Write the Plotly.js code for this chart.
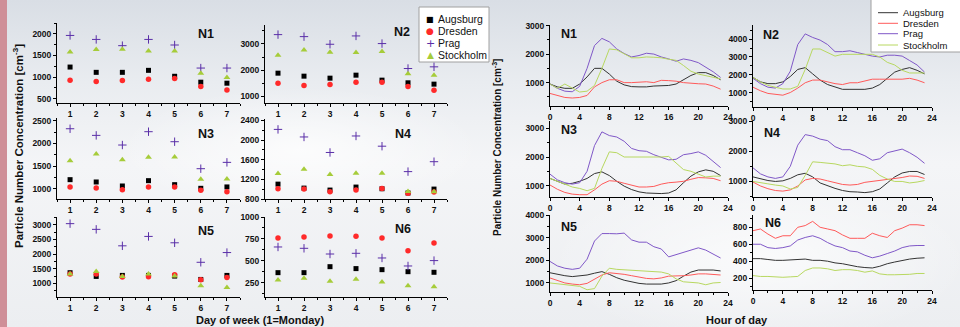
<!DOCTYPE html>
<html><head><meta charset="utf-8">
<script src="https://cdn.plot.ly/plotly-3.0.1.min.js"></script>
<style>
html,body{margin:0;padding:0;}
body{width:960px;height:327px;overflow:hidden;
background:
 radial-gradient(ellipse 260px 90px at 300px 150px, rgba(255,255,255,0.75), rgba(255,255,255,0) 70%),
 radial-gradient(ellipse 300px 120px at 760px 260px, rgba(255,255,255,0.7), rgba(255,255,255,0) 70%),
 linear-gradient(to bottom, #d9dee5 0%, #e9ecf0 25%, #f4f5f7 50%, #eceef1 100%);}
#chart{width:960px;height:327px;position:absolute;left:0;top:0;}
#strip{position:absolute;left:0;top:0;width:7px;height:327px;background:#cf8f98;}
</style></head>
<body><div id="strip"></div><div id="chart"></div>
<script>
// ---------- DATA ----------
const cities = ["Augsburg","Dresden","Prag","Stockholm"];
const days = [1,2,3,4,5,6,7];
const hours = [0,1,2,3,4,5,6,7,8,9,10,11,12,13,14,15,16,17,18,19,20,21,22,23];
const panels = ["N1","N2","N3","N4","N5","N6"];

// Day-of-week means (Augsburg, Dresden, Prag, Stockholm)
const dowN1_Augsburg  = [1231,1109,1109,1155,1018,881,858];
const dowN1_Dresden   = [926,896,919,949,964,782,698];
const dowN1_Prag      = [1962,1870,1726,1870,1741,1208,1208];
const dowN1_Stockholm = [1581,1635,1642,1604,1604,1086,987];

const dowN2_Augsburg  = [1886,1772,1696,1810,1620,1519,1468];
const dowN2_Dresden   = [1506,1418,1456,1544,1544,1380,1240];
const dowN2_Prag      = [3354,3278,2987,3304,3013,2063,2127];
const dowN2_Stockholm = [2570,2772,2684,2671,2709,1861,1810];

const dowN3_Augsburg  = [1205,1154,1066,1183,1095,1015,1045];
const dowN3_Dresden   = [1044,1022,985,1044,1044,971,941];
const dowN3_Prag      = [2324,2178,1966,2259,2039,1446,1585];
const dowN3_Stockholm = [1622,1768,1644,1695,1702,1212,1220];

const dowN4_Augsburg  = [1103,1022,982,1043,1009,922,1002];
const dowN4_Dresden   = [1009,1002,948,982,1016,915,942];
const dowN4_Prag      = [2218,2064,1748,2084,1876,1358,1560];
const dowN4_Stockholm = [1318,1405,1298,1325,1325,955,948];

const dowN5_Augsburg  = [1366,1240,1274,1274,1251,1137,1274];
const dowN5_Dresden   = [1320,1320,1217,1229,1297,1126,1206];
const dowN5_Prag      = [3034,2840,2280,2600,2383,1720,2051];
const dowN5_Stockholm = [1320,1411,1240,1320,1251,920,863];

const dowN6_Augsburg  = [367,367,435,413,401,378,371];
const dowN6_Dresden   = [761,773,784,780,761,617,704];
const dowN6_Prag      = [659,644,579,587,534,443,504];
const dowN6_Stockholm = [284,303,269,291,261,219,208];

// Hour-of-day means
const hodN1_Augsburg  = [950,850,800,800,950,1200,1500,1500,1300,1050,920,860,850,850,880,880,900,950,1100,1250,1350,1350,1250,1100];
const hodN1_Dresden   = [620,550,480,460,480,550,850,1000,1100,1100,1000,1000,1020,1030,1000,1080,1070,1050,1000,970,960,950,880,770];
const hodN1_Prag      = [950,800,700,680,870,1500,2300,2550,2430,2180,2020,1900,1950,2030,2000,1900,1830,1750,1830,1780,1700,1550,1380,1180];
const hodN1_Stockholm = [950,800,950,800,670,700,900,1500,2180,2150,2000,1870,1870,1900,1890,1870,1820,1780,1600,1400,1300,1250,1200,1130];

const hodN2_Augsburg  = [1850,1600,1500,1500,1600,1900,2300,2400,2050,1700,1450,1300,1180,1180,1180,1180,1250,1450,1800,2150,2300,2400,2250,2050];
const hodN2_Dresden   = [1300,1100,950,880,850,1000,1250,1550,1700,1700,1600,1500,1450,1550,1550,1650,1750,1750,1750,1750,1750,1800,1700,1550];
const hodN2_Prag      = [1800,1500,1300,1250,1500,2200,3700,4300,4100,3950,3700,3300,3300,3350,3250,3150,3050,3000,3100,3100,3050,2800,2550,2150];
const hodN2_Stockholm = [1850,1600,1400,1300,1200,1200,1350,2300,3450,3450,3250,3050,3150,3150,3150,3150,3150,3000,2700,2550,2250,2100,2100,2100];

const hodN3_Augsburg  = [1250,1150,1050,1080,1150,1250,1420,1480,1350,1150,980,860,780,740,720,720,740,850,1100,1330,1480,1550,1500,1350];
const hodN3_Dresden   = [1020,870,760,700,680,680,850,1050,1170,1150,1080,1020,950,950,970,1050,1100,1120,1150,1220,1280,1270,1250,1170];
const hodN3_Prag      = [1400,1200,1100,1050,1100,1500,2400,2880,2750,2700,2550,2300,2220,2200,2080,2000,1900,1920,2080,2120,2180,2060,1850,1630];
const hodN3_Stockholm = [1250,1150,1050,950,900,820,900,1600,2180,2150,2000,2000,2000,1980,2000,2000,2020,1800,1560,1500,1400,1300,1330,1330];

const hodN4_Augsburg  = [1150,1080,1030,1000,1020,1100,1220,1270,1150,950,850,770,700,660,650,630,660,750,950,1150,1280,1330,1330,1230];
const hodN4_Dresden   = [980,850,760,700,680,720,850,1050,1100,1080,1020,950,900,880,900,970,1000,1020,1050,1100,1130,1180,1170,1100];
const hodN4_Prag      = [1450,1250,1150,1100,1150,1500,2200,2550,2500,2400,2350,2150,2050,2050,1950,1850,1700,1750,1950,2000,2070,1950,1800,1600];
const hodN4_Stockholm = [1000,950,920,880,850,750,800,1200,1650,1630,1600,1580,1520,1550,1500,1480,1400,1200,1080,1000,1000,950,980,1030];

const hodN5_Augsburg  = [1450,1380,1320,1280,1300,1350,1430,1500,1380,1230,1120,1050,980,950,950,950,1000,1100,1300,1480,1570,1580,1570,1530];
const hodN5_Dresden   = [1220,1100,1000,950,920,980,1150,1350,1450,1430,1380,1320,1250,1200,1180,1220,1300,1300,1320,1350,1400,1400,1380,1350];
const hodN5_Prag      = [1950,1750,1650,1600,1650,2050,2850,3180,3180,3170,3200,2900,2800,2800,2600,2500,2150,2250,2380,2450,2550,2450,2280,2100];
const hodN5_Stockholm = [1000,960,920,880,850,700,750,1300,1650,1600,1580,1550,1520,1530,1500,1480,1400,1180,1050,1030,1000,920,1000,1020];

const hodN6_Augsburg  = [430,430,420,410,410,415,420,425,410,410,400,380,370,350,335,325,320,340,370,390,410,425,435,440];
const hodN6_Dresden   = [760,780,720,670,700,700,800,820,870,800,780,760,710,670,670,670,730,700,680,760,790,830,830,820];
const hodN6_Prag      = [600,600,560,550,560,580,650,680,700,670,620,580,560,520,510,470,440,460,490,520,560,580,585,585];
const hodN6_Stockholm = [230,220,220,215,210,215,220,290,320,320,310,290,300,300,290,270,285,250,240,240,240,245,255,255];

const dowData = {
  N1:[dowN1_Augsburg,dowN1_Dresden,dowN1_Prag,dowN1_Stockholm],
  N2:[dowN2_Augsburg,dowN2_Dresden,dowN2_Prag,dowN2_Stockholm],
  N3:[dowN3_Augsburg,dowN3_Dresden,dowN3_Prag,dowN3_Stockholm],
  N4:[dowN4_Augsburg,dowN4_Dresden,dowN4_Prag,dowN4_Stockholm],
  N5:[dowN5_Augsburg,dowN5_Dresden,dowN5_Prag,dowN5_Stockholm],
  N6:[dowN6_Augsburg,dowN6_Dresden,dowN6_Prag,dowN6_Stockholm]};
const hodData = {
  N1:[hodN1_Augsburg,hodN1_Dresden,hodN1_Prag,hodN1_Stockholm],
  N2:[hodN2_Augsburg,hodN2_Dresden,hodN2_Prag,hodN2_Stockholm],
  N3:[hodN3_Augsburg,hodN3_Dresden,hodN3_Prag,hodN3_Stockholm],
  N4:[hodN4_Augsburg,hodN4_Dresden,hodN4_Prag,hodN4_Stockholm],
  N5:[hodN5_Augsburg,hodN5_Dresden,hodN5_Prag,hodN5_Stockholm],
  N6:[hodN6_Augsburg,hodN6_Dresden,hodN6_Prag,hodN6_Stockholm]};

// ---------- STYLE / LAYOUT ----------
const W=960,H=327;
const px=x=>x/W, py=y=>1-y/H;
const markerStyle=[
  {symbol:'square',size:5,color:'#000000'},
  {symbol:'circle',size:5.5,color:'#ff2a2a'},
  {symbol:'cross-thin-open',size:6,color:'#5a2fa8',line:{width:1,color:'#5a2fa8'}},
  {symbol:'triangle-up',size:6,color:'#a6cc3a'}];
const lineColors=['#333333','#ff5a5a','#8058c8','#b8d860'];

// left (day of week) panels: [x0,x1,ytop,ybottom, yrange, dtick]
const leftGeom={
  N1:[57,240,23,103,[400,2250],500],
  N2:[265,447,25,103,[750,3720],1000],
  N3:[57,240,118,199,[780,2560],500],
  N4:[265,447,119,199,[800,2430],400],
  N5:[57,240,217,297,[540,3260],500],
  N6:[265,447,217,297,[90,1000],250]};
const rightGeom={
  N1:[550,728,25,106,[180,3020],1000],
  N2:[753,932,25,107,[186,4800],1000],
  N3:[550,728,121,197,[600,3260],1000],
  N4:[753,932,121,197,[485,3000],1000],
  N5:[550,728,215,292,[600,4000],1000],
  N6:[753,932,215,290,[60,945],200]};
const leftLabelPos={N1:[206,34],N2:[402,32],N3:[206,134],N4:[403,134],N5:[206,231],N6:[403,229]};
const rightLabelPos={N1:[569,34],N2:[771,35],N3:[569,130],N4:[772,133],N5:[569,227],N6:[773,223]};

const tickFont={family:'Liberation Sans, Arial, sans-serif',size:8.5,color:'#111',weight:'bold'};
const traces=[]; const layout={
  width:W,height:H,margin:{l:0,r:0,t:0,b:0},
  paper_bgcolor:'rgba(0,0,0,0)',plot_bgcolor:'rgba(0,0,0,0)',
  showlegend:false,annotations:[],shapes:[]};

function axisBase(){return {showgrid:false,zeroline:false,showline:true,linecolor:'#000',linewidth:1,
  ticks:'outside',ticklen:3,tickwidth:1,tickcolor:'#000',tickfont:tickFont,fixedrange:true};}

let ai=1;
function addPanel(name,geom,isLeft){
  const [x0,x1,yt,yb,yr,dt]=geom;
  const xa='xaxis'+(ai===1?'':ai), ya='yaxis'+(ai===1?'':ai);
  const xr='x'+(ai===1?'':ai), yrf='y'+(ai===1?'':ai);
  layout[xa]=Object.assign(axisBase(),{domain:[px(x0),px(x1)],anchor:yrf,
    range:isLeft?[0.5,7.5]:[0,24], tickmode:'array',
    tickvals:isLeft?days:[0,4,8,12,16,20,24],
    minor:{ticks:'outside',ticklen:2,tickcolor:'#000',dtick:isLeft?0.5:2,tick0:0}});
  layout[ya]=Object.assign(axisBase(),{domain:[py(yb),py(yt)],anchor:xr,range:yr,dtick:dt,tick0:0,
    minor:{ticks:'outside',ticklen:2,tickcolor:'#000',dtick:dt/2,tick0:0}});
  const series=isLeft?dowData[name]:hodData[name];
  series.forEach((vals,i)=>{
    if(isLeft){
      traces.push({type:'scatter',mode:'markers',x:days,y:vals,xaxis:xr,yaxis:yrf,name:cities[i],
        marker:markerStyle[i],cliponaxis:false,hoverinfo:'skip'});
    } else {
      traces.push({type:'scatter',mode:'lines',x:hours,y:vals,xaxis:xr,yaxis:yrf,name:cities[i],
        line:{color:lineColors[i],width:1},hoverinfo:'skip'});
    }
  });
  const lp=(isLeft?leftLabelPos:rightLabelPos)[name];
  layout.annotations.push({xref:'paper',yref:'paper',x:px(lp[0]),y:py(lp[1]),text:name,showarrow:false,
    xanchor:'center',yanchor:'middle',font:{family:'Liberation Sans, Arial, sans-serif',size:12.5,color:'#111',weight:'bold'}});
  ai++;
}
panels.forEach(p=>addPanel(p,leftGeom[p],true));
panels.forEach(p=>addPanel(p,rightGeom[p],false));

// axis titles
const titleFont={family:'Liberation Sans, Arial, sans-serif',size:11.5,color:'#111',weight:'bold'};
layout.annotations.push({xref:'paper',yref:'paper',x:px(18),y:py(146),textangle:-90,showarrow:false,
  xanchor:'center',yanchor:'middle',text:'Particle Number Concentration [cm<sup>-3</sup>]',font:titleFont});
layout.annotations.push({xref:'paper',yref:'paper',x:px(497),y:py(148),textangle:-90,showarrow:false,
  xanchor:'center',yanchor:'middle',text:'Particle Number Concentration [cm<sup>-3</sup>]',font:Object.assign({},titleFont,{size:10})});
layout.annotations.push({xref:'paper',yref:'paper',x:px(260),y:py(320),showarrow:false,xanchor:'center',yanchor:'middle',
  text:'Day of week (1=Monday)',font:Object.assign({},titleFont,{size:11})});
layout.annotations.push({xref:'paper',yref:'paper',x:px(737),y:py(320),showarrow:false,xanchor:'center',yanchor:'middle',
  text:'Hour of day',font:Object.assign({},titleFont,{size:11})});

// left legend (markers)
layout.shapes.push({type:'rect',xref:'paper',yref:'paper',x0:px(419),x1:px(489),y0:py(62),y1:py(7),
  fillcolor:'#ffffff',line:{color:'#a0a0a0',width:1},layer:'below'});
const legSym=['■','●','+','▲'];
const legSymCol=['#000','#ff2a2a','#5a2fa8','#a6cc3a'];
const legSymSize=[8,9,11,9];
[19,31,43,55].forEach((y,i)=>{
  layout.annotations.push({xref:'paper',yref:'paper',x:px(430),y:py(y),text:legSym[i],showarrow:false,
    xanchor:'center',yanchor:'middle',font:{family:'DejaVu Sans',size:legSymSize[i],color:legSymCol[i]}});
  layout.annotations.push({xref:'paper',yref:'paper',x:px(436),y:py(y),text:cities[i],showarrow:false,
    xanchor:'left',yanchor:'middle',font:{family:'Liberation Sans, Arial, sans-serif',size:10.5,color:'#111'}});
});
// right legend (lines)
layout.shapes.push({type:'rect',xref:'paper',yref:'paper',x0:px(871),x1:px(962),y0:py(52),y1:py(-2),
  fillcolor:'#ffffff',line:{color:'#a0a0a0',width:1},layer:'below'});
[12.7,23.3,33.7,45].forEach((y,i)=>{
  layout.shapes.push({type:'line',xref:'paper',yref:'paper',x0:px(878),x1:px(898),y0:py(y),y1:py(y),
    line:{color:lineColors[i],width:1}});
  layout.annotations.push({xref:'paper',yref:'paper',x:px(901),y:py(y),text:cities[i],showarrow:false,
    xanchor:'left',yanchor:'middle',font:{family:'Liberation Sans, Arial, sans-serif',size:9.5,color:'#111'}});
});

Plotly.newPlot('chart',traces,layout,{staticPlot:true,displayModeBar:false});
</script></body></html>
